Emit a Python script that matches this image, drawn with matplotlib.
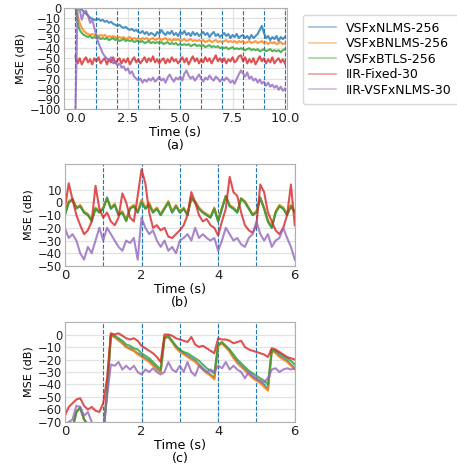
import numpy as np
import matplotlib
matplotlib.use("Agg")
import matplotlib.pyplot as plt

labels = ["VSFxNLMS-256", "VSFxBNLMS-256", "VSFxBTLS-256", "IIR-Fixed-30", "IIR-VSFxNLMS-30"]
colors = ["#1f77b4", "#ff7f0e", "#2ca02c", "#d62728", "#9467bd"]

# ---------------- panel (a): 0..10 s, 0.1 s step ----------------
t_a = np.linspace(0, 10, 101)
a_blue = [0, 0, 0, -2, -4, -6, -8, -10, -11, -12,
          -12, -11, -13, -12, -14, -13, -15, -14, -16, -17,
          -18, -17, -19, -20, -19, -21, -22, -21, -23, -22,
          -24, -25, -23, -26, -24, -27, -25, -26, -28, -24,
          -26, -22, -25, -27, -24, -26, -23, -27, -25, -28,
          -24, -26, -23, -27, -25, -28, -24, -27, -25, -28,
          -26, -24, -27, -25, -29, -26, -24, -28, -26, -29,
          -27, -25, -28, -26, -30, -27, -29, -26, -30, -28,
          -27, -30, -28, -31, -27, -30, -28, -26, -22, -18,
          -25, -30, -28, -32, -29, -31, -28, -33, -29, -31, -29]
a_orange = [0, -8, -15, -20, -23, -25, -26, -27, -26, -27,
            -27, -28, -27, -28, -27, -29, -28, -29, -28, -29,
            -30, -29, -30, -29, -31, -30, -29, -31, -30, -31,
            -30, -32, -30, -31, -30, -32, -31, -30, -32, -31,
            -30, -32, -31, -30, -32, -31, -33, -31, -32, -31,
            -33, -32, -31, -33, -32, -31, -33, -32, -33, -32,
            -33, -32, -34, -33, -32, -34, -33, -32, -34, -33,
            -34, -33, -32, -34, -33, -34, -33, -35, -33, -34,
            -33, -35, -34, -33, -35, -34, -33, -35, -34, -33,
            -35, -34, -36, -34, -35, -34, -36, -35, -34, -36, -35]
a_green = [0, -15, -22, -25, -27, -28, -29, -28, -30, -29,
           -30, -29, -31, -30, -31, -30, -32, -31, -30, -32,
           -31, -33, -32, -31, -33, -32, -33, -32, -34, -33,
           -33, -34, -33, -35, -34, -33, -35, -34, -35, -34,
           -35, -34, -36, -35, -34, -36, -35, -36, -35, -37,
           -36, -37, -36, -37, -36, -38, -37, -36, -38, -37,
           -38, -37, -39, -38, -37, -39, -38, -39, -38, -40,
           -39, -40, -39, -41, -40, -39, -41, -40, -41, -40,
           -41, -42, -41, -40, -42, -41, -42, -41, -43, -42,
           -41, -43, -42, -41, -43, -42, -43, -42, -44, -42, -41]
a_red = [-48, -55, -50, -56, -52, -49, -54, -51, -56, -50,
         -53, -49, -55, -52, -50, -56, -51, -54, -49, -55,
         -52, -50, -55, -51, -54, -50, -56, -52, -49, -54,
         -51, -55, -52, -49, -54, -50, -53, -48, -54, -51,
         -55, -52, -50, -55, -51, -54, -49, -53, -51, -55,
         -52, -49, -54, -50, -56, -52, -48, -53, -50, -55,
         -51, -54, -49, -53, -50, -55, -51, -47, -53, -50,
         -54, -50, -55, -51, -53, -49, -54, -52, -48, -47,
         -53, -49, -55, -51, -54, -50, -56, -52, -48, -53,
         -50, -55, -51, -54, -49, -55, -52, -50, -54, -51, -55]
a_purple = [-100, 0, -2, -12, -5, -3, -8, -15, -12, -20,
            -28, -35, -40, -45, -48, -50, -52, -49, -55, -53,
            -57, -55, -59, -58, -62, -60, -65, -63, -68, -70,
            -72, -70, -74, -71, -73, -70, -72, -69, -73, -71,
            -68, -72, -70, -74, -69, -66, -70, -73, -69, -71,
            -68, -72, -65, -62, -67, -70, -68, -72, -69, -66,
            -70, -73, -69, -71, -67, -70, -72, -68, -70, -73,
            -70, -72, -69, -71, -74, -72, -75, -70, -66, -62,
            -65, -68, -64, -70, -68, -72, -70, -74, -71, -75,
            -73, -77, -74, -78, -76, -79, -77, -81, -78, -82, -80]

# ---------------- panel (b): 0..6 s, 0.1 s step ----------------
t_b = np.linspace(0, 6, 61)
b_blue = [-10, 0, 2, -4, -3, -8, -10, -14, -5, -8,
          -5, 4, -5, -2, -10, -8, -14, -5, -3, -8,
          1, -5, -2, -8, -5, -10, -5, 0, -8, -3,
          -8, -5, -10, 4, 0, -5, -8, -10, -12, -5,
          -15, -5, 5, -3, -5, -8, 3, 0, -5, -10,
          -8, 4, -5, -15, -20, -8, -3, -5, -10, -3, -8]
b_orange = [-9, 1, 3, -4, -2, -7, -9, -14, -4, -7,
            -4, 3, -4, -1, -9, -7, -14, -4, -2, -7,
            2, -4, 0, -7, -4, -9, -4, 1, -7, -2,
            -7, -4, -9, 3, 1, -4, -7, -9, -11, -4,
            -14, -4, 5, -2, -4, -7, 3, 1, -4, -9,
            -7, 3, -4, -14, -19, -7, -2, -4, -9, -2, -7]
b_green = [-10, 0, 2, -5, -3, -8, -10, -15, -5, -8,
           -5, 3, -5, -2, -10, -8, -15, -5, -3, -8,
           0, -5, -2, -8, -5, -10, -5, 0, -8, -3,
           -8, -5, -10, 3, 0, -5, -8, -10, -12, -5,
           -15, -5, 5, -3, -5, -8, 3, 0, -5, -10,
           -8, 3, -5, -15, -20, -8, -3, -5, -10, -3, -8]
b_red = [-5, 15, 2, -10, -18, -25, -22, -15, 13, -5,
         -12, -8, -15, -18, -12, 7, 0, -12, -15, 5,
         26, 15, -8, -20, -18, -22, -20, -27, -28, -25,
         -22, -18, -10, 8, 0, -10, -15, -13, -18, -20,
         -26, -15, -5, 20, 8, 5, -8, -18, -22, -24,
         -18, 14, 8, -8, -15, -22, -25, -20, -10, 14, -18]
b_purple = [-20, -28, -25, -30, -40, -45, -35, -40, -30, -20,
            -30, -20, -25, -30, -35, -38, -30, -32, -28, -45,
            -12, -20, -25, -22, -30, -35, -30, -38, -35, -40,
            -30, -28, -25, -30, -20, -28, -25, -28, -30, -28,
            -38, -30, -20, -25, -30, -28, -33, -35, -28, -25,
            -15, -25, -30, -25, -35, -30, -28, -20, -28, -35, -45]

# ---------------- panel (c): 0..6 s, 0.1 s step ----------------
t_c = np.linspace(0, 6, 61)
c_blue = [-85, -80, -75, -62, -59, -68, -72, -78, -80, -82,
          -80, -46, -1, -2, -4, -7, -10, -11, -13, -15,
          -17, -19, -21, -24, -27, -30, -3, -2, -6, -10,
          -13, -15, -17, -19, -21, -24, -27, -30, -32, -35,
          -9, -7, -10, -13, -18, -22, -25, -28, -31, -34,
          -36, -38, -40, -44, -13, -14, -17, -19, -21, -24, -27]
c_orange = [-85, -80, -75, -62, -59, -68, -72, -78, -80, -82,
            -80, -46, -1, -2, -5, -7, -10, -12, -13, -16,
            -18, -20, -22, -25, -28, -30, -3, -2, -6, -11,
            -14, -16, -18, -20, -22, -25, -28, -31, -33, -36,
            -9, -7, -10, -14, -19, -23, -26, -29, -32, -35,
            -37, -39, -42, -45, -13, -15, -18, -20, -22, -25, -28]
c_green = [-85, -80, -75, -62, -58, -68, -72, -78, -80, -82,
           -80, -45, 0, -1, -3, -5, -8, -9, -11, -12,
           -15, -17, -19, -22, -25, -28, -2, -1, -5, -9,
           -12, -14, -15, -17, -19, -21, -24, -27, -29, -31,
           -8, -6, -9, -12, -16, -20, -23, -26, -29, -31,
           -33, -35, -37, -40, -12, -13, -15, -17, -19, -21, -24]
c_red = [-65, -58, -55, -52, -51, -57, -60, -58, -61, -62,
         -55, -35, 1, 0, 1, -1, -3, -4, -3, -5,
         -9, -11, -13, -15, -18, -22, 0, 0, -1, -3,
         -4, -5, -6, -2, -8, -10, -9, -11, -13, -15,
         -3, -4, -4, -5, -7, -6, -5, -10, -12, -13,
         -14, -15, -16, -18, -11, -12, -14, -16, -18, -19, -20]
c_purple = [-72, -70, -68, -57, -58, -65, -62, -70, -75, -78,
            -80, -50, -24, -25, -22, -28, -25, -28, -25, -30,
            -32, -28, -30, -27, -30, -32, -30, -22, -28, -30,
            -25, -30, -22, -30, -33, -25, -28, -30, -28, -30,
            -25, -27, -22, -28, -25, -28, -30, -35, -30, -33,
            -35, -37, -38, -35, -28, -27, -30, -28, -27, -28, -27]

fig = plt.figure(figsize=(4.57, 4.65), dpi=100)

def style(ax, xlim, ylim, xticks, yticks, sub):
    ax.set_xlim(*xlim)
    ax.set_ylim(*ylim)
    ax.set_xticks(xticks)
    ax.set_yticks(yticks)
    ax.grid(True, color="#e3e3e3", lw=0.9)
    ax.set_axisbelow(True)
    for s in ax.spines.values():
        s.set_color("#b0b0b0")
        s.set_linewidth(0.8)
    ax.tick_params(length=0, pad=2, colors="#222222")
    ax.tick_params(axis="x", labelsize=9.5)
    ax.tick_params(axis="y", labelsize=8.3)
    ax.set_ylabel("MSE (dB)", fontsize=8, labelpad=3)
    ax.set_xlabel("Time (s)\n" + sub, fontsize=9.2, labelpad=1, linespacing=1.0)

def draw(ax, t, series, vlines):
    for v in vlines:
        ax.axvline(v, color="#1f77b4", ls="--", lw=0.8, zorder=1.5)
    lines = []
    for y, c, l in zip(series, colors, labels):
        ln, = ax.plot(t, y, color=c, lw=1.5, alpha=0.8, label=l, zorder=2)
        lines.append(ln)
    return lines

ax1 = fig.add_axes([0.140, 0.7656, 0.488, 0.218])
lines = draw(ax1, t_a, [a_blue, a_orange, a_green, a_red, a_purple], range(0, 11))
style(ax1, (-0.55, 10.1), (-100, 0), [0, 2.5, 5, 7.5, 10], range(-100, 1, 10), "(a)")
ax1.set_xticklabels(["0.0", "2.5", "5.0", "7.5", "10.0"])

ax2 = fig.add_axes([0.142, 0.428, 0.503, 0.219])
draw(ax2, t_b, [b_blue, b_orange, b_green, b_red, b_purple], range(1, 7))
style(ax2, (0, 6), (-50, 30), [0, 2, 4, 6], range(-50, 11, 10), "(b)")

ax3 = fig.add_axes([0.142, 0.0925, 0.503, 0.215])
draw(ax3, t_c, [c_blue, c_orange, c_green, c_red, c_purple], range(1, 7))
style(ax3, (0, 6), (-70, 10), [0, 2, 4, 6], range(-70, 1, 10), "(c)")

leg = fig.legend(lines, labels, loc="upper left", bbox_to_anchor=(0.662, 0.968),
                 fontsize=9, frameon=True, handlelength=2.1, borderpad=0.55,
                 labelspacing=0.2, handletextpad=0.8, borderaxespad=0.0)
for h in leg.get_lines():
    h.set_alpha(0.45)
    h.set_linewidth(1.2)
leg.get_frame().set_edgecolor("#d0d0d0")

fig.savefig("out.png", dpi=100)
